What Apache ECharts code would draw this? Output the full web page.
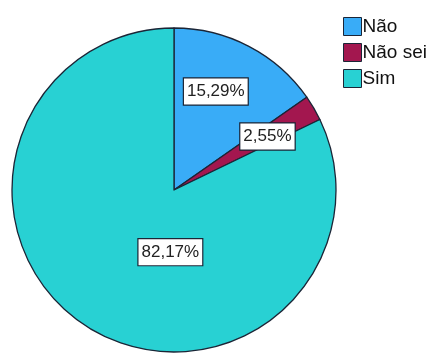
<!DOCTYPE html>
<html>
<head>
<meta charset="utf-8">
<script src="https://cdn.jsdelivr.net/npm/echarts@6/dist/echarts.min.js"></script>
<style>
  html, body { margin: 0; padding: 0; background: #fff; }
  #chart { width: 435px; height: 354px; }
</style>
</head>
<body>
<div id="chart"></div>
<script>
// dados
const categories = ['Não', 'Não sei', 'Sim'];
const percents = [15.29, 2.55, 82.17];
const colors = ['#39acf7', '#a3174f', '#28d1d3'];
// deslocamento dos rótulos (imitando o SPSS)
const labelOffsets = [[3, -24], [21, -11], [41, -9]];

const chart = echarts.init(document.getElementById('chart'));

const option = {
    animation: false,
    legend: {
        orient: 'vertical',
        left: 338,
        top: 12,
        itemWidth: 18,
        itemHeight: 18,
        itemGap: 7,
        icon: 'rect',
        data: categories,
        itemStyle: {
            borderColor: '#1b2536',
            borderWidth: 1
        },
        textStyle: {
            fontFamily: 'Liberation Sans, Arial, sans-serif',
            fontSize: 19,
            color: '#111',
            padding: [0, 0, 0, -4]
        }
    },
    series: [{
        type: 'pie',
        center: [174, 190],
        radius: [0, 162],
        startAngle: 90,
        clockwise: true,
        avoidLabelOverlap: false,
        itemStyle: {
            borderColor: '#1b2536',
            borderWidth: 1.3
        },
        emphasis: { disabled: true },
        label: {
            show: true,
            position: 'inside',
            fontFamily: 'Liberation Sans, Arial, sans-serif',
            fontSize: 17,
            color: '#222',
            backgroundColor: '#fff',
            borderColor: '#1b2536',
            borderWidth: 1.2,
            padding: [5, 3, 4, 3],
            formatter: function (p) {
                return p.value.toFixed(2).replace('.', ',') + '%';
            }
        },
        labelLine: { show: false },
        data: categories.map(function (name, i) {
            return {
                name: name,
                value: percents[i],
                itemStyle: { color: colors[i] },
                label: { offset: labelOffsets[i] }
            };
        })
    }]
};

chart.setOption(option);
</script>
</body>
</html>
